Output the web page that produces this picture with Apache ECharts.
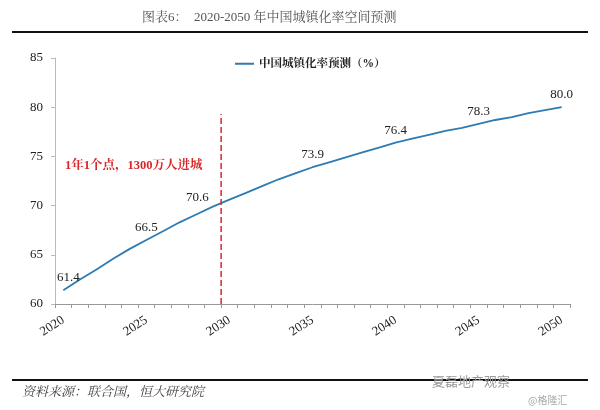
<!DOCTYPE html>
<html><head><meta charset="utf-8">
<script src="https://cdn.jsdelivr.net/npm/echarts@6/dist/echarts.min.js"></script>
<style>html,body{margin:0;padding:0;background:#fff}#c{width:600px;height:410px}</style>
</head><body><div id="c"></div>
<script>
var years = [];
for (var y = 2020; y <= 2050; y++) years.push(String(y));
var rate = [61.4,62.5,63.5,64.6,65.6,66.5,67.4,68.3,69.1,69.9,70.6,71.3,72.0,72.7,73.3,73.9,74.4,74.9,75.4,75.9,76.4,76.8,77.2,77.6,77.9,78.3,78.7,79.0,79.4,79.7,80.0];
var labelYears = ['2020','2025','2030','2035','2040','2045','2050'];
var seriesName = '中国城镇化率预测（%）';
var dividerX = [2029.5, 2029.5];
var dividerY = [60, 79.3];
var note = '1年1个点，1300万人进城';

var serif = '"Liberation Serif","Noto Serif CJK SC","Noto Sans CJK SC",serif';
var labelOffsets = {'2020': [5, 0], '2030': [-32, 10]};
var chart = echarts.init(document.getElementById('c'));
chart.setOption({
  animation: false,
  grid: {left: 55, right: 30, top: 58, bottom: 106},
  title: {
    text: '图表6：  2020-2050 年中国城镇化率空间预测',
    left: 137, top: 6,
    textStyle: {fontSize: 13, fontWeight: 'normal', color: '#555', fontFamily: serif}
  },
  legend: {
    top: 53, left: 230, itemWidth: 19, itemHeight: 2, itemGap: 4,
    icon: 'rect',
    textStyle: {fontSize: 11.5, fontWeight: 'bold', color: '#222', fontFamily: serif},
    data: [seriesName]
  },
  xAxis: [{
    type: 'category', data: years, boundaryGap: true,
    axisLine: {lineStyle: {color: '#999'}},
    axisTick: {show: true, alignWithLabel: false, interval: 0, lineStyle: {color: '#999'}, length: 4},
    axisLabel: {interval: 4, rotate: 33, color: '#222', fontSize: 13, fontFamily: serif, margin: 15}
  }, {
    type: 'value', min: 2019.5, max: 2050.5, show: false
  }],
  yAxis: {
    type: 'value', min: 60, max: 85, interval: 5,
    splitLine: {show: false},
    axisLine: {show: true, lineStyle: {color: '#bbb'}},
    axisTick: {show: true, lineStyle: {color: '#bbb'}, length: 4},
    axisLabel: {color: '#222', fontSize: 13, fontFamily: serif, margin: 12}
  },
  series: [{
    name: seriesName, type: 'line', symbol: 'circle', symbolSize: 0, showSymbol: true,
    lineStyle: {color: '#2e7bb3', width: 1.8},
    itemStyle: {color: '#2e7bb3'},
    data: rate.map(function (v, i) {
      var show = labelYears.indexOf(years[i]) >= 0;
      return {value: v, label: {show: show, position: 'top', distance: 6,
        formatter: function (p) { return Number(p.value).toFixed(1); },
        color: '#222', fontSize: 13, fontFamily: serif,
        offset: labelOffsets[years[i]] || [0, 0]}};
    })
  }, {
    name: 'divider', type: 'line', xAxisIndex: 1, symbol: 'none', silent: true,
    lineStyle: {color: '#d9262a', type: 'dashed', width: 1.5},
    data: dividerX.map(function (x, i) { return [x, dividerY[i]]; })
  }],
  graphic: [
    {type: 'rect', shape: {x: 12, y: 31, width: 576, height: 2}, style: {fill: '#111'}},
    {type: 'rect', shape: {x: 12, y: 379, width: 576, height: 2}, style: {fill: '#111'}},
    {type: 'text', left: 65, top: 160, style: {text: note, fill: '#d9262a', font: 'bold 12.5px ' + serif}},
    {type: 'text', left: 22, top: 386, style: {text: '资料来源：联合国，恒大研究院', fill: '#444', font: 'italic 13px ' + serif}},
    {type: 'text', left: 432, top: 375, style: {text: '夏磊地产观察', fill: '#999', font: '13px "Noto Sans CJK SC"'}},
    {type: 'text', left: 528, top: 395, style: {text: '@格隆汇', fill: '#aaa', font: '10px "Noto Sans CJK SC"'}}
  ]
});
</script></body></html>
